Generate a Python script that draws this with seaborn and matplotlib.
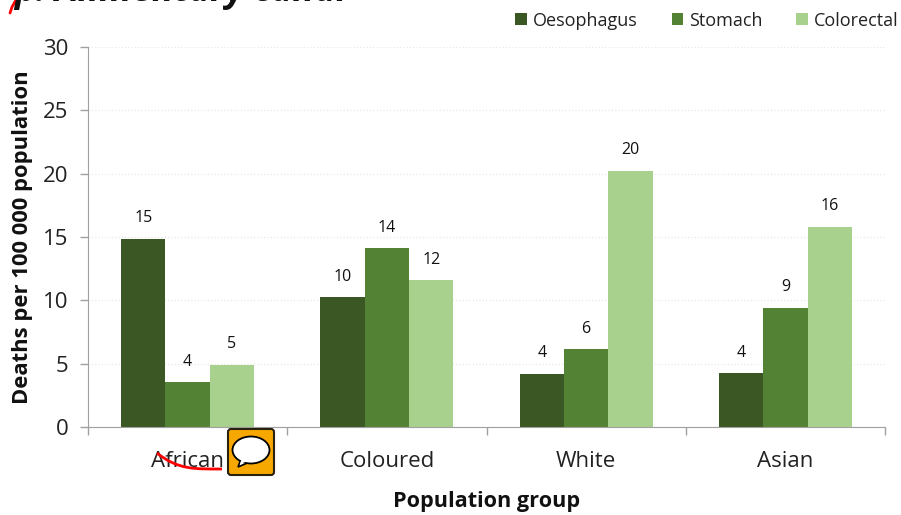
import pandas as pd
import matplotlib
matplotlib.use('Agg')
import matplotlib.pyplot as plt
from matplotlib.patches import FancyBboxPatch, Ellipse, Polygon
from matplotlib.path import Path
from matplotlib.patches import PathPatch
import seaborn as sns

groups = ['African', 'Coloured', 'White', 'Asian']
oesophagus = [14.85, 10.25, 4.2, 4.25]
stomach = [3.55, 14.1, 6.15, 9.4]
colorectal = [4.9, 11.6, 20.25, 15.8]
oesophagus_labels = ['15', '10', '4', '4']
stomach_labels = ['4', '14', '6', '9']
colorectal_labels = ['5', '12', '20', '16']
cancers = ['Oesophagus', 'Stomach', 'Colorectal']
colors = ['#3b5723', '#548235', '#a9d18e']
yticks = [0, 5, 10, 15, 20, 25, 30]

df = pd.DataFrame({'group': groups, 'Oesophagus': oesophagus, 'Stomach': stomach, 'Colorectal': colorectal})
df = df.melt(id_vars='group', var_name='cancer', value_name='deaths')

sns.set_style('white')
plt.rcParams['font.family'] = ['Open Sans', 'DejaVu Sans']

fig = plt.figure(figsize=(9.01, 5.15), dpi=100)
ax = fig.add_axes([88/901, 1-427/515, (885-88)/901, (427-47)/515])
sns.barplot(data=df, x='group', y='deaths', hue='cancer', hue_order=cancers, order=groups,
            palette=colors, width=0.667, gap=0, saturation=1, linewidth=0, ax=ax)

all_labels = [oesophagus_labels, stomach_labels, colorectal_labels]
for container, labels in zip(ax.containers, all_labels):
    ax.bar_label(container, labels=labels, padding=9, fontsize=11.5, color='#111111')

ax.set_xlim(-0.5, 3.5)
ax.set_ylim(0, 30)
ax.set_yticks(yticks)
ax.tick_params(axis='y', labelsize=16, length=6, width=1, color='#a0a0a0', labelcolor='#222222', pad=8, left=True)
ax.set_xticks([-0.5, 0.5, 1.5, 2.5, 3.5])
ax.set_xticklabels([])
ax.set_xticks([0, 1, 2, 3], minor=True)
ax.set_xticklabels(groups, minor=True)
ax.tick_params(axis='x', which='major', length=6, width=1, color='#a0a0a0', bottom=True)
ax.tick_params(axis='x', which='minor', length=0, labelsize=16, labelcolor='#222222', pad=17)
ax.grid(axis='y', color='#e8e8e8', linestyle=':', linewidth=0.9)
ax.set_axisbelow(True)
sns.despine(ax=ax)
ax.spines['left'].set_color('#a0a0a0')
ax.spines['bottom'].set_color('#a0a0a0')
ax.set_ylabel('Deaths per 100 000 population', fontsize=15.8, fontweight='bold', color='#111111')
ax.yaxis.set_label_coords(-55/797, 0.5)
ax.set_xlabel('Population group', fontsize=15.6, fontweight='bold', color='#111111')
ax.xaxis.set_label_coords(0.5, -64/380)

handles, names = ax.get_legend_handles_labels()
ax.legend(handles, names, ncol=3, frameon=False, fontsize=13, loc='upper right',
          bbox_to_anchor=(910/901, 1.0), bbox_transform=fig.transFigure,
          handlelength=0.65, handleheight=0.65, handletextpad=0.3, columnspacing=1.9,
          borderaxespad=0.25, labelcolor='#222222')

# slide title cut off at the top, pen marks and comment icon, in pixel coords
over = fig.add_axes([0, 0, 1, 1], facecolor='none')
over.set_xlim(0, 901)
over.set_ylim(515, 0)
over.axis('off')
over.text(14, 1, 'p: Alimentary canal', fontsize=26, fontweight='bold', style='italic',
          color='#111111', va='baseline', ha='left', clip_on=False)
over.plot([10, 12, 16], [13, 7, 0], color='red', lw=2)
curve = Path([(157, 453), (178, 470), (195, 469), (222, 469)],
             [Path.MOVETO, Path.CURVE4, Path.CURVE4, Path.CURVE4])
over.add_patch(PathPatch(curve, fill=False, edgecolor='red', lw=2, zorder=5))
over.add_patch(FancyBboxPatch((228, 429), 46, 46, boxstyle='round,pad=0,rounding_size=3',
                              facecolor='#f7a800', edgecolor='#2a2010', lw=1.5, zorder=6))
over.add_patch(Polygon([(241, 459), (238, 467), (252, 461)], closed=True, facecolor='white',
                       edgecolor='black', lw=1.2, zorder=7))
over.add_patch(Ellipse((251, 450), 37, 27, facecolor='white', edgecolor='black', lw=1.3, zorder=7))
over.add_patch(Polygon([(242, 458), (240, 464), (251, 460)], closed=True, facecolor='white',
                       edgecolor='none', zorder=8))

fig.savefig('out.png', dpi=100)
